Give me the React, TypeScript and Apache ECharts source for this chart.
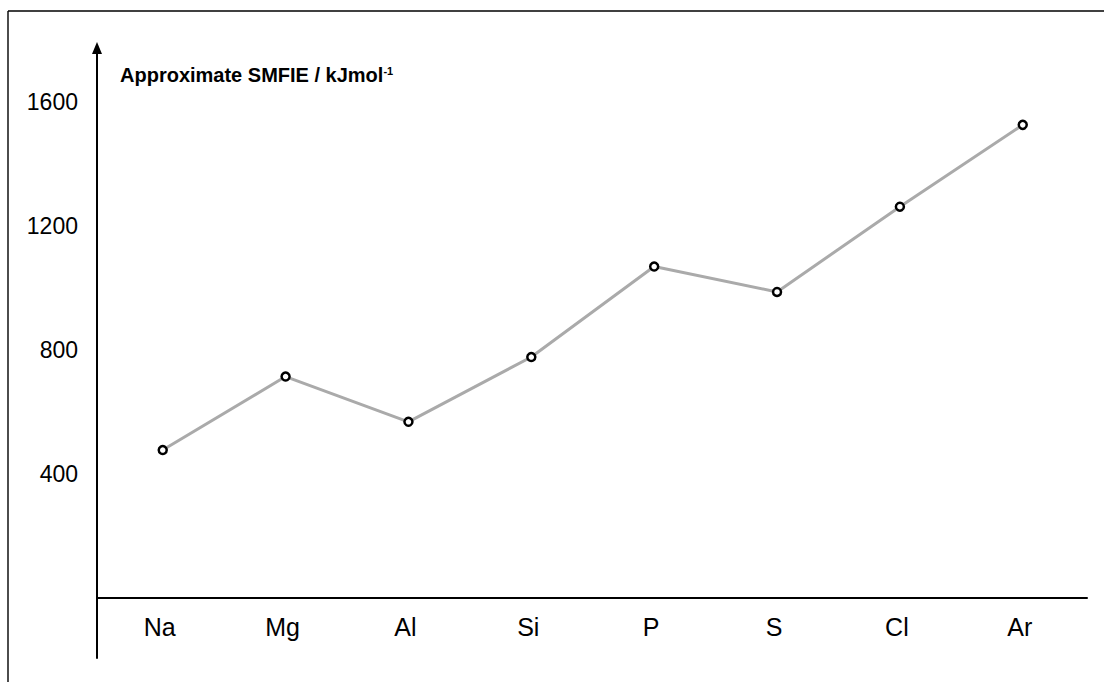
import React, { useEffect, useRef } from "react";
import * as echarts from "echarts";

const categories = ["Na", "Mg", "Al", "Si", "P", "S", "Cl", "Ar"];
const smfieValues = [477, 714, 568, 777, 1069, 987, 1262, 1526];
const yTickValues = [400, 800, 1200, 1600];
const titleMain = "Approximate SMFIE / kJmol";
const titleSup = "-1";

export default function App() {
  const ref = useRef<HTMLDivElement>(null);

  useEffect(() => {
    if (!ref.current) return;
    const chart = echarts.init(ref.current, null, { renderer: "svg" });
    const font = "'Liberation Sans', Arial, Helvetica, sans-serif";
    chart.setOption({
      animation: false,
      backgroundColor: "#ffffff",
      grid: {
        left: 97,
        right: 17,
        top: 48,
        bottom: 24,
        containLabel: false,
        outerBoundsMode: "none",
      },
      xAxis: {
        type: "value",
        min: -0.535,
        max: 7.523,
        axisLine: { show: true, onZero: true, lineStyle: { color: "#000", width: 2 } },
        axisTick: { show: false },
        splitLine: { show: false },
        axisLabel: {
          customValues: categories.map((_, i) => i),
          formatter: (v: number) => categories[Math.round(v)] ?? "",
          fontFamily: font,
          fontSize: 25,
          color: "#000",
          margin: -44,
          padding: [0, 6, 0, 0],
        },
      },
      yAxis: {
        type: "value",
        min: -194,
        max: 1774,
        axisLine: {
          show: true,
          onZero: false,
          symbol: ["none", "triangle"],
          symbolSize: [10, 12],
          lineStyle: { color: "#000", width: 2 },
        },
        axisTick: { show: false },
        splitLine: { show: false },
        axisLabel: {
          customValues: yTickValues,
          formatter: (v: number) => String(v),
          fontFamily: font,
          fontSize: 23,
          color: "#000",
          margin: 19,
        },
      },
      series: [
        {
          type: "line",
          data: categories.map((_, i) => [i, smfieValues[i]]),
          lineStyle: { color: "#aaaaaa", width: 3 },
          symbol: "circle",
          symbolSize: 8,
          showAllSymbol: true,
          itemStyle: { color: "#ffffff", borderColor: "#000000", borderWidth: 2.5 },
          emphasis: { disabled: true },
        },
      ],
      graphic: [
        {
          type: "line",
          shape: { x1: 8, y1: 11, x2: 1104, y2: 11 },
          style: { stroke: "#000", lineWidth: 1.4 },
        },
        {
          type: "line",
          shape: { x1: 8, y1: 11, x2: 8, y2: 682 },
          style: { stroke: "#000", lineWidth: 1.4 },
        },
        {
          type: "text",
          left: 120,
          top: 65,
          style: {
            text: `{a|${titleMain}}{b|${titleSup}}`,
            rich: {
              a: { fontFamily: font, fontSize: 20, fontWeight: "bold", fill: "#000" },
              b: { fontFamily: font, fontSize: 11, fontWeight: "bold", fill: "#000", verticalAlign: "top" },
            },
          },
        },
      ],
    });
    return () => chart.dispose();
  }, []);

  return (
    <div
      ref={ref}
      style={{ position: "fixed", left: 0, top: 0, width: 1104, height: 682 }}
    />
  );
}
